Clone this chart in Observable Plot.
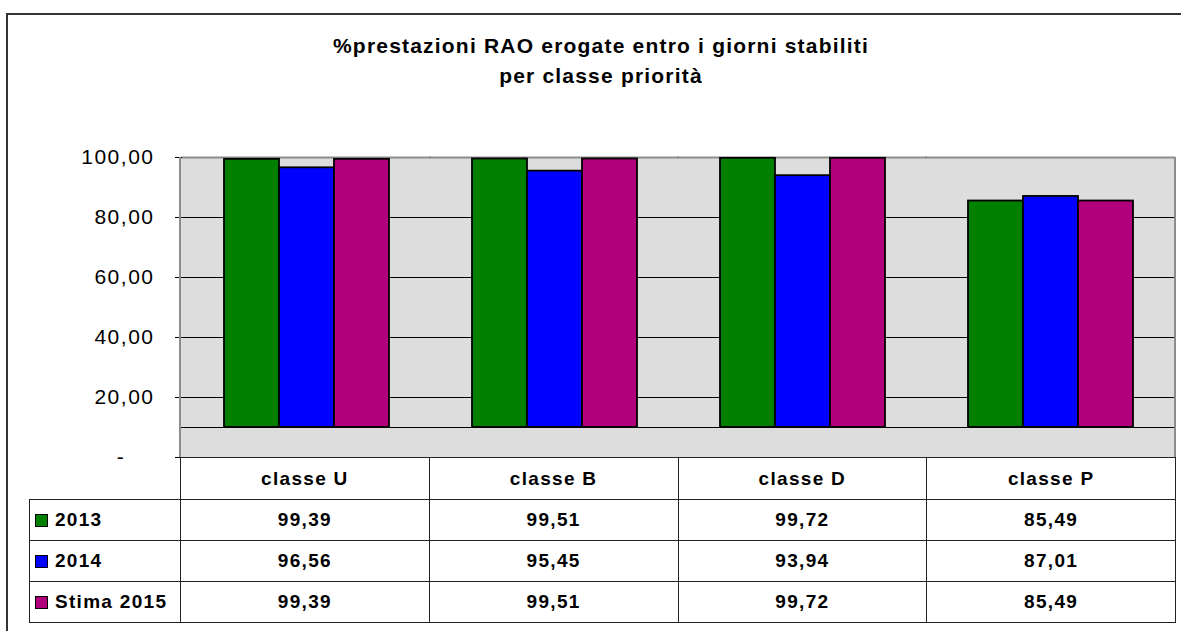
<!DOCTYPE html>
<html>
<head>
<meta charset="utf-8">
<script src="https://cdn.jsdelivr.net/npm/d3@7"></script>
<script src="https://cdn.jsdelivr.net/npm/@observablehq/plot@0.6"></script>
<style>
  html, body { margin: 0; padding: 0; background: #fff; }
  body { width: 1181px; height: 631px; overflow: hidden; position: relative;
         font-family: "Liberation Sans", Arial, sans-serif; color: #000; }
  #frame { position: absolute; left: 6px; top: 13px; width: 1300px; height: 800px;
           border: 2px solid #333; box-sizing: border-box; }
  #title { position: absolute; left: 0; top: 31px; width: 1202px; text-align: center;
           font-weight: bold; font-size: 21px; letter-spacing: 1.2px; line-height: 30px; }
  #bg { position: absolute; left: 180px; top: 157px; width: 995px; height: 300px; background: #dddddd; }
  #chart { position: absolute; left: 0; top: 137px; }
  #edges { position: absolute; left: 179px; top: 157px; width: 997px; height: 300px;
           border-left: 2px solid #8c8c8c; border-right: 2px solid #8c8c8c;
           box-sizing: border-box; pointer-events: none; }
  #datatable { position: absolute; left: 29px; top: 457px; border-collapse: collapse;
               table-layout: fixed; font-weight: bold; font-size: 19px; letter-spacing: 1.3px; }
  #datatable td { border: 1px solid #222; padding: 0; text-align: center; height: 40px;
                  white-space: nowrap; }
  #datatable tr.head td { height: 41px; }
  #datatable td.blank { border: none; }
  #datatable td.leg { text-align: left; padding-left: 5px; }
  .sw { display: inline-block; width: 11px; height: 11px; border: 1px solid #000;
        margin-right: 7px; vertical-align: -1px; }
</style>
</head>
<body>
<div id="frame"></div>
<div id="title">%prestazioni RAO erogate entro i giorni stabiliti<br>per classe priorità</div>
<div id="bg"></div>
<div id="chart"></div>
<div id="edges"></div>
<table id="datatable"></table>
<script>
const categories = ["classe U", "classe B", "classe D", "classe P"];
const series = ["2013", "2014", "Stima 2015"];
const values2013 = [99.39, 99.51, 99.72, 85.49];
const values2014 = [96.56, 95.45, 93.94, 87.01];
const valuesStima2015 = [99.39, 99.51, 99.72, 85.49];
const seriesColors = ["#008000", "#0000ff", "#b0007c"];
const yTicks = [0, 20, 40, 60, 80, 100];
const floorLevel = 10; // the chart's floor, where the columns stand

const seriesValues = [values2013, values2014, valuesStima2015];
const rows = categories.flatMap((c, i) =>
  series.map((s, j) => ({category: c, series: s, value: seriesValues[j][i]})));

const fmt = v => v === 0 ? "-\u00a0\u00a0\u00a0\u00a0" : d3.format(".2f")(v).replace(".", ",");

const chart = Plot.plot({
  width: 1181,
  height: 321,
  marginLeft: 180,
  marginRight: 6,
  marginTop: 20,
  marginBottom: 1,
  style: {background: "transparent", fontFamily: "'Liberation Sans', Arial, sans-serif",
          fontSize: "21px", letterSpacing: "1.5px", overflow: "visible", color: "#000"},
  fx: {domain: categories, padding: 0, axis: null, label: null},
  x: {domain: series, paddingInner: 0, paddingOuter: 0.723, axis: null, label: null},
  y: {domain: [0, 100], label: null},
  color: {domain: series, range: seriesColors},
  marks: [
    Plot.ruleY([20, 40, 60, 80, floorLevel], {stroke: "#000", strokeWidth: 1.2, insetLeft: -1, insetRight: -1}),
    Plot.ruleY([100], {stroke: "#8c8c8c", strokeWidth: 2, insetLeft: -1, insetRight: -1}),
    Plot.barY(rows, {fx: "category", x: "series", y1: floorLevel, y2: "value",
                     fill: "series", stroke: "#000", strokeWidth: 1.8, inset: 0}),
    Plot.axisY({ticks: yTicks, tickFormat: fmt, tickSize: 7, tickPadding: 21,
                stroke: "#000", fill: "#000", label: null, fontSize: 21})
  ]
});
document.getElementById("chart").appendChild(chart);

// data table under the chart
const table = document.getElementById("datatable");
const colWidths = [151, 248.75, 248.75, 248.75, 248.75];
const cg = document.createElement("colgroup");
colWidths.forEach(w => { const col = document.createElement("col"); col.style.width = w + "px"; cg.appendChild(col); });
table.appendChild(cg);
const head = document.createElement("tr");
head.className = "head";
const blank = document.createElement("td"); blank.className = "blank"; head.appendChild(blank);
categories.forEach(c => { const td = document.createElement("td"); td.textContent = c; head.appendChild(td); });
table.appendChild(head);
series.forEach((s, j) => {
  const tr = document.createElement("tr");
  const lg = document.createElement("td"); lg.className = "leg";
  const sw = document.createElement("span"); sw.className = "sw"; sw.style.background = seriesColors[j];
  lg.appendChild(sw); lg.appendChild(document.createTextNode(s));
  tr.appendChild(lg);
  seriesValues[j].forEach(v => { const td = document.createElement("td"); td.textContent = d3.format(".2f")(v).replace(".", ","); tr.appendChild(td); });
  table.appendChild(tr);
});
</script>
</body>
</html>
